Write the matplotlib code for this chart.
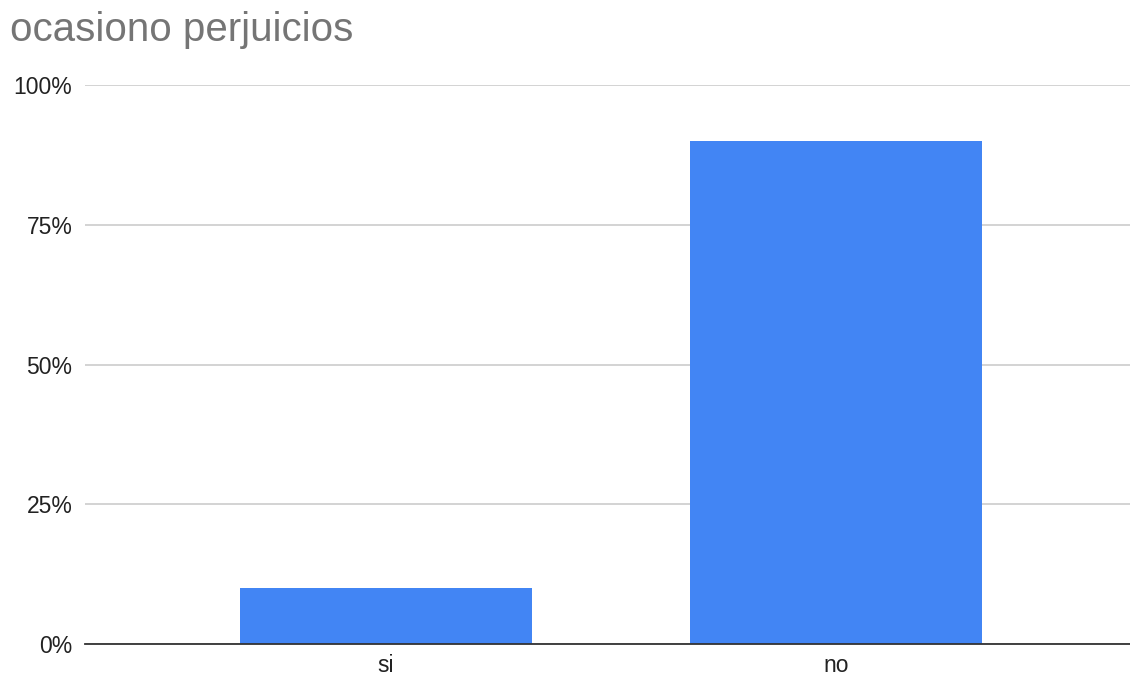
import matplotlib
matplotlib.use("Agg")
import matplotlib.pyplot as plt
from matplotlib.ticker import FuncFormatter

categories = ["si", "no"]
values = [10, 90]
yticks = [0, 25, 50, 75, 100]

plt.rcParams['font.family'] = ['Liberation Sans', 'DejaVu Sans']

fig = plt.figure(figsize=(11.3, 6.76), dpi=100)
ax = fig.add_axes([0.075, 0.047, 0.925, 0.827])

x = list(range(len(categories)))
ax.bar(x, values, width=0.647, color="#4285F4", zorder=3)
ax.set_xlim(-0.669, 1.653)
ax.set_ylim(0, 100)
ax.set_yticks(yticks)
ax.yaxis.set_major_formatter(FuncFormatter(lambda v, p: f"{int(v)}%"))
ax.set_xticks(x)
ax.set_xticklabels(categories)
ax.grid(axis='y', color="#cccccc", linewidth=1.2, zorder=0)
for s in ["top", "right", "left"]:
    ax.spines[s].set_visible(False)
ax.spines["bottom"].set_color("#333333")
ax.spines["bottom"].set_linewidth(1.3)
ax.spines["bottom"].set_zorder(4)
ax.tick_params(axis='both', length=0, labelsize=16.5, colors="#222222")
ax.tick_params(axis='y', pad=9)
ax.tick_params(axis='x', pad=7)

fig.text(0.009, 0.955, "ocasiono perjuicios", fontsize=29, color="#757575",
         ha="left", va="center")

fig.savefig("out.png", dpi=100)
